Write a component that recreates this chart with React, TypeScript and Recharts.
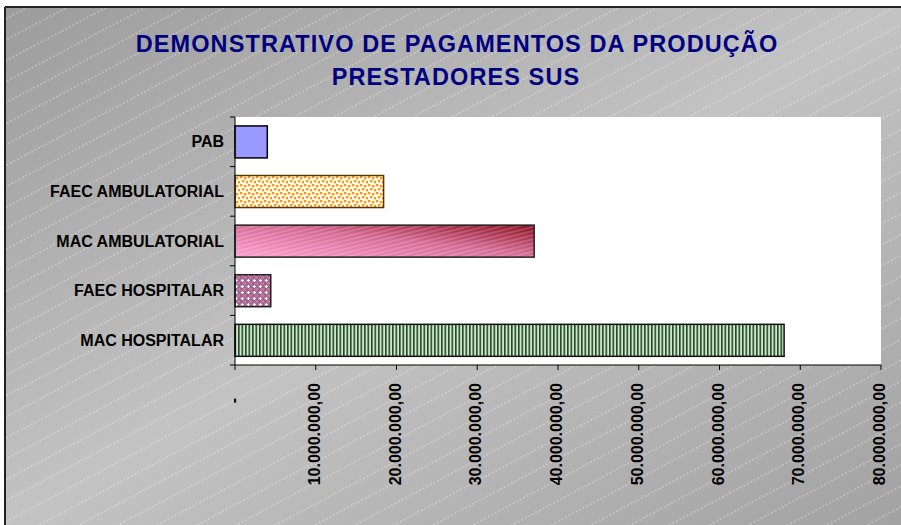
import React from "react";
import { BarChart, Bar, XAxis, YAxis, CartesianGrid, Cell } from "recharts";

const categories = ["PAB", "FAEC AMBULATORIAL", "MAC AMBULATORIAL", "FAEC HOSPITALAR", "MAC HOSPITALAR"];
const values = [4000000, 18400000, 37050000, 4430000, 68000000];
const xTicks = [0, 10000000, 20000000, 30000000, 40000000, 50000000, 60000000, 70000000, 80000000];
const titleLines = ["DEMONSTRATIVO DE PAGAMENTOS DA PRODUÇÃO", "PRESTADORES SUS"];

const barFills = ["#9999ff", "url(#dotsOrange)", "url(#pinkGrad)", "url(#mauveDots)", "url(#greenStripes)"];
const barOverlays = [null, null, "url(#pinkStripes)", null, null];
const barStrokes = ["#000", "#5a3300", "#222", "#222", "#111"];

const data = categories.map((name, i) => ({ name, value: values[i] }));

const W = 901;
const H = 525;
const MARGIN = { top: 117, right: 20, bottom: 0, left: 0 };
const Y_AXIS_W = 235;
const X_AXIS_H = 160;
const PLOT_H = H - MARGIN.top - MARGIN.bottom - X_AXIS_H;
const FONT = "'Liberation Sans', Arial, Helvetica, sans-serif";

function fmtBR(v: number): string {
  if (v === 0) return "-";
  const s = Math.round(v).toString().replace(/\B(?=(\d{3})+(?!\d))/g, ".");
  return s + ",00";
}

const CatTick = (props: any) => {
  const { x, y, payload, index } = props;
  const band = PLOT_H / categories.length;
  const axisX = x + 11;
  return (
    <g>
      <text x={x} y={y} dy="0.35em" textAnchor="end" fontSize={16} fontWeight="bold" fill="#000" fontFamily={FONT}>
        {payload.value}
      </text>
      <line x1={axisX - 5} x2={axisX} y1={y - band / 2} y2={y - band / 2} stroke="#000" strokeWidth={1} />
      {index === categories.length - 1 && (
        <line x1={axisX - 5} x2={axisX} y1={y + band / 2} y2={y + band / 2} stroke="#000" strokeWidth={1} />
      )}
    </g>
  );
};

const ValTick = (props: any) => {
  const { x, y, payload } = props;
  const off = payload.value === 0 ? 28 : 13;
  return (
    <text
      transform={`translate(${x},${y + off}) rotate(-90)`}
      textAnchor="end"
      dy="0.25em"
      fontSize={16}
      fontWeight="bold"
      fill="#000"
      fontFamily={FONT}
    >
      {fmtBR(payload.value)}
    </text>
  );
};

const BarShape = (props: any) => {
  const { x, y, width, height, index } = props;
  if (width <= 0) return null;
  return (
    <g>
      <rect x={x} y={y} width={width} height={height} fill={barFills[index]} />
      {barOverlays[index] && <rect x={x} y={y} width={width} height={height} fill={barOverlays[index] as string} />}
      <rect x={x} y={y} width={width} height={height} fill="none" stroke={barStrokes[index]} strokeWidth={1.5} />
    </g>
  );
};

const Background = () => (
  <svg width={W} height={H} style={{ position: "absolute", left: 0, top: 0 }}>
    <defs>
      <linearGradient id="bgGrad" x1="0" y1="0" x2="1" y2="1">
        <stop offset="0" stopColor="#9c9c9c" />
        <stop offset="0.5" stopColor="#c3c3c3" />
        <stop offset="1" stopColor="#a2a2a2" />
      </linearGradient>
      <pattern id="bgLines" patternUnits="userSpaceOnUse" width="12" height="18.5" patternTransform="rotate(-28)">
        <line x1="0" y1="1" x2="12" y2="1" stroke="#ffffff" strokeOpacity="0.5" strokeWidth="1" strokeDasharray="2 2" />
      </pattern>
    </defs>
    <rect x={0} y={0} width={W} height={H} fill="#ffffff" />
    <rect x={5} y={7} width={W - 5} height={H - 7} fill="url(#bgGrad)" />
    <rect x={5} y={7} width={W - 5} height={H - 7} fill="url(#bgLines)" />
    <line x1={5} y1={7} x2={W} y2={7} stroke="#222" strokeWidth={2} />
    <line x1={5} y1={7} x2={5} y2={H} stroke="#222" strokeWidth={2} />
    <text x={457} y={52} textAnchor="middle" fontSize={23.5} fontWeight="bold" fill="#000080" fontFamily={FONT} letterSpacing={1.1}>
      {titleLines[0]}
    </text>
    <text x={456} y={85} textAnchor="middle" fontSize={23.5} fontWeight="bold" fill="#000080" fontFamily={FONT} letterSpacing={1.1}>
      {titleLines[1]}
    </text>
  </svg>
);

export default function App() {
  return (
    <div style={{ position: "absolute", left: 0, top: 0, width: W, height: H, overflow: "hidden" }}>
      <Background />
      <div style={{ position: "absolute", left: 0, top: 0 }}>
        <BarChart width={W} height={H} data={data} layout="vertical" margin={MARGIN} barCategoryGap="18%">
          <defs>
            <pattern id="dotsOrange" patternUnits="userSpaceOnUse" width="8" height="8">
              <rect x="0" y="0" width="8" height="8" fill="#ffffff" />
              <rect x="0" y="0" width="2.4" height="2.4" fill="#ff9900" />
              <rect x="4" y="1" width="2.4" height="2.4" fill="#ff9900" />
              <rect x="2" y="4" width="2.4" height="2.4" fill="#ff9900" />
              <rect x="6" y="5" width="2.4" height="2.4" fill="#ff9900" />
            </pattern>
            <linearGradient id="pinkGrad" x1="0" y1="1" x2="1" y2="0">
              <stop offset="0" stopColor="#ff9fd0" />
              <stop offset="0.55" stopColor="#d46892" />
              <stop offset="1" stopColor="#8a0d1c" />
            </linearGradient>
            <pattern id="pinkStripes" patternUnits="userSpaceOnUse" width="8" height="4" patternTransform="rotate(-14)">
              <line x1="0" y1="1" x2="8" y2="1" stroke="#ffffff" strokeOpacity="0.22" strokeWidth="1.5" />
            </pattern>
            <pattern id="mauveDots" patternUnits="userSpaceOnUse" width="6" height="6">
              <rect x="0" y="0" width="6" height="6" fill="#b87aa0" />
              <rect x="0" y="0" width="3" height="3" fill="#a5628c" />
              <rect x="3" y="3" width="3" height="3" fill="#a5628c" />
              <rect x="1" y="4" width="3" height="1" fill="#ffffff" />
              <rect x="2" y="3" width="1" height="3" fill="#ffffff" />
            </pattern>
            <pattern id="greenStripes" patternUnits="userSpaceOnUse" width="3.5" height="4">
              <rect x="0" y="0" width="3.5" height="4" fill="#d2e4d2" />
              <rect x="0" y="0" width="1.6" height="4" fill="#1f4d1f" />
            </pattern>
          </defs>
          <CartesianGrid horizontal={false} vertical={false} fill="#ffffff" />
          <XAxis
            type="number"
            domain={[0, 80000000]}
            ticks={xTicks}
            interval={0}
            height={X_AXIS_H}
            tickSize={5}
            tickMargin={0}
            tick={<ValTick />}
            axisLine={{ stroke: "#000", strokeWidth: 1 }}
            tickLine={{ stroke: "#000", strokeWidth: 1 }}
          />
          <YAxis
            type="category"
            dataKey="name"
            width={Y_AXIS_W}
            tickSize={5}
            tickMargin={6}
            tickLine={false}
            interval={0}
            tick={<CatTick />}
            axisLine={{ stroke: "#000", strokeWidth: 1 }}
          />
          <Bar dataKey="value" isAnimationActive={false} shape={<BarShape />}>
            {data.map((d, i) => (
              <Cell key={d.name} fill={barFills[i]} />
            ))}
          </Bar>
        </BarChart>
      </div>
    </div>
  );
}
